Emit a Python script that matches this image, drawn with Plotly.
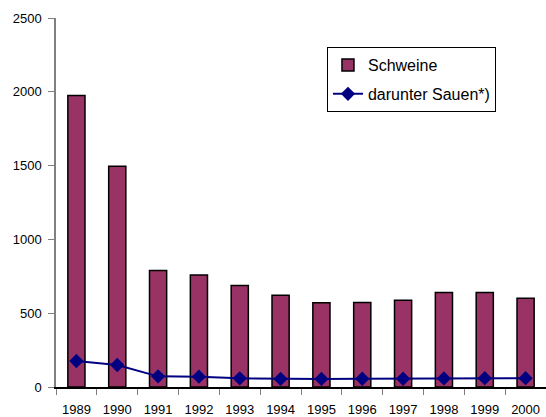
import plotly.graph_objects as go

years = ["1989", "1990", "1991", "1992", "1993", "1994", "1995", "1996", "1997", "1998", "1999", "2000"]
schweine = [1975, 1495, 790, 759, 687, 622, 570, 572, 588, 640, 640, 601]
sauen = [176, 149, 72, 70, 59, 55, 55, 56, 56, 58, 60, 60]

fig = go.Figure()
fig.add_trace(go.Bar(
    x=years, y=schweine, name="Schweine", legendgroup="a",
    marker=dict(color="#993366", line=dict(color="black", width=1.5)),
    width=0.42,
))
fig.add_trace(go.Scatter(
    x=years, y=sauen, name="darunter Sauen*)", mode="lines+markers", legendgroup="b",
    line=dict(color="#000080", width=2),
    marker=dict(symbol="diamond", size=11, color="#000080"),
))

fig.update_layout(
    width=546, height=417,
    margin=dict(l=56, r=0, t=18, b=30),
    plot_bgcolor="white", paper_bgcolor="white",
    font=dict(family="Liberation Sans, Arial, sans-serif", size=13, color="black"),
    showlegend=True,
    legend=dict(
        x=0.553, y=0.921, xanchor="left", yanchor="top",
        bordercolor="black", borderwidth=1, bgcolor="white",
        font=dict(size=16), tracegroupgap=5, traceorder="grouped",
    ),
)
fig.update_yaxes(
    range=[0, 2500], tickvals=[0, 500, 1000, 1500, 2000, 2500],
    showgrid=False, showline=True, linecolor="#808080", linewidth=1.5,
    ticks="outside", ticklen=6, tickcolor="#808080", tickwidth=1,
    zeroline=False, ticklabelstandoff=4,
)
fig.update_xaxes(
    type="category", showgrid=False, showline=True, linecolor="black", linewidth=1.5,
    ticks="outside", ticklen=6, tickcolor="#808080", tickson="boundaries",
    range=[-0.5, 11.5], ticklabelstandoff=10,
)

fig.write_html("out.html", config={"displayModeBar": False},
               post_script="document.body.style.margin='0';")
